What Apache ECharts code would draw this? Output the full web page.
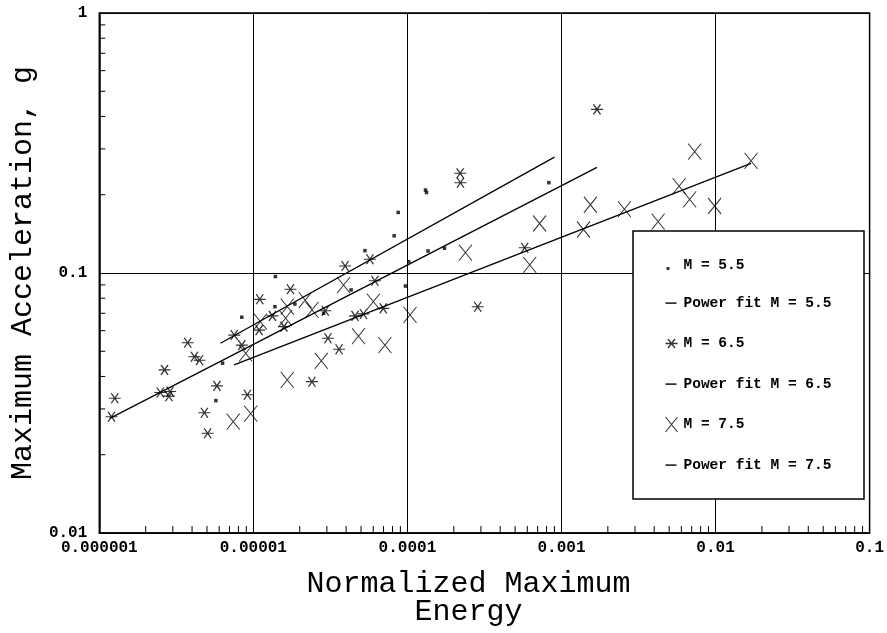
<!DOCTYPE html>
<html>
<head>
<meta charset="utf-8">
<script src="https://cdn.jsdelivr.net/npm/echarts@6/dist/echarts.min.js"></script>
<style>
html,body{margin:0;padding:0;background:#fff;}
#chart{width:887px;height:633px;}
</style>
</head>
<body>
<div id="chart"></div>
<script>
// ---- data ----
const m55X = [5.71e-6, 6.31e-6, 8.41e-6, 1.39e-5, 1.38e-5, 1.86e-5, 2.86e-5, 4.31e-5, 5.30e-5, 8.20e-5, 8.71e-5, 1.31e-4, 1.33e-4, 1.02e-4, 1.36e-4, 1.74e-4, 9.71e-5, 8.28e-4];
const m55Y = [0.0323, 0.0450, 0.0676, 0.0969, 0.0742, 0.0760, 0.0700, 0.0861, 0.1219, 0.139, 0.171, 0.2085, 0.204, 0.1105, 0.1215, 0.1245, 0.0891, 0.2225];

const m65X = [1.20e-6, 1.26e-6, 2.65e-6, 2.49e-6, 2.88e-6, 2.83e-6, 3.75e-6, 4.14e-6, 4.47e-6, 4.81e-6, 5.05e-6, 5.80e-6, 7.51e-6, 8.41e-6, 9.15e-6, 1.10e-5, 1.09e-5, 1.33e-5, 1.74e-5, 1.58e-5, 3.94e-5, 5.71e-5, 6.15e-5, 2.93e-5, 3.05e-5, 3.60e-5, 2.40e-5, 4.57e-5, 5.18e-5, 6.97e-5, 2.20e-4, 2.21e-4, 5.77e-4, 2.86e-4, 1.70e-3];
const m65Y = [0.0280, 0.0330, 0.0424, 0.0347, 0.0350, 0.0336, 0.0539, 0.0476, 0.0462, 0.0290, 0.0242, 0.0368, 0.0577, 0.0528, 0.0340, 0.0792, 0.0603, 0.0684, 0.0866, 0.0622, 0.1064, 0.113, 0.0934, 0.0716, 0.0561, 0.0509, 0.0382, 0.0684, 0.0696, 0.0731, 0.242, 0.2225, 0.125, 0.0742, 0.426];

const m75X = [7.40e-6, 9.61e-6, 8.92e-6, 1.11e-5, 1.66e-5, 1.62e-5, 2.17e-5, 2.40e-5, 3.85e-5, 6.01e-5, 4.81e-5, 2.76e-5, 7.14e-5, 1.66e-5, 1.04e-4, 2.38e-4, 7.21e-4, 6.22e-4, 1.39e-3, 1.54e-3, 2.56e-3, 4.24e-3, 5.80e-3, 6.79e-3, 7.32e-3, 9.86e-3, 1.70e-2];
const m75Y = [0.0268, 0.0288, 0.0491, 0.0650, 0.0742, 0.0670, 0.0787, 0.0721, 0.0899, 0.0776, 0.0572, 0.0459, 0.0528, 0.0388, 0.0690, 0.1197, 0.155, 0.1074, 0.147, 0.183, 0.176, 0.1575, 0.216, 0.192, 0.293, 0.181, 0.270];

const fit55X = [6.12e-6, 9.0e-4];
const fit55Y = [0.0537, 0.279];
const fit65X = [1.17e-6, 1.70e-3];
const fit65Y = [0.0276, 0.255];
const fit75X = [7.5e-6, 1.70e-2];
const fit75Y = [0.0443, 0.264];

const xTickLabels = ['0.000001', '0.00001', '0.0001', '0.001', '0.01', '0.1'];
const yTickLabels = ['0.01', '0.1', '1'];
const xMinorTicks = [2e-6,3e-6,4e-6,5e-6,6e-6,7e-6,8e-6,9e-6,
  2e-5,3e-5,4e-5,5e-5,6e-5,7e-5,8e-5,9e-5,
  2e-4,3e-4,4e-4,5e-4,6e-4,7e-4,8e-4,9e-4,
  2e-3,3e-3,4e-3,5e-3,6e-3,7e-3,8e-3,9e-3,
  0.02,0.03,0.04,0.05,0.06,0.07,0.08,0.09];
const yMinorTicks = [0.02,0.03,0.04,0.05,0.06,0.07,0.08,0.09,0.2,0.3,0.4,0.5,0.6,0.7,0.8,0.9];

const seriesNames = ['M = 5.5', 'Power fit M = 5.5', 'M = 6.5', 'Power fit M = 6.5', 'M = 7.5', 'Power fit M = 7.5'];

// ---- helpers ----
const zip = (xs, ys) => xs.map((x, i) => [x, ys[i]]);
const MONO = "'Courier New','Liberation Mono',monospace";
const ASTER = 'path://M-6,0L6,0M-3.5,-5L3.5,5M-3.5,5L3.5,-5';
const XMARK = 'path://M-6.5,-8L6.5,8M-6.5,8L6.5,-8';
// legend icons in a 14x16 frame (leading moves fix the frame)
const LEG_DOT = 'path://M0,0M14,16M2,10L5,10L5,13L2,13Z';
const LEG_DASH = 'path://M0,0M14,16M1,7.4L12,7.4L12,8.8L1,8.8Z';
const LEG_ASTER = 'path://M0,0M14,16M1,8L13,8M3.5,3.5L10.5,12.5M3.5,12.5L10.5,3.5';
const LEG_X = 'path://M0,0M14,16M1,0.5L13,15.5M1,15.5L13,0.5';

const tickSeries = (data, horizontal) => ({
  type: 'custom',
  silent: true,
  clip: false,
  z: 3,
  data: data,
  renderItem: (params, api) => {
    const p = api.coord([api.value(0), api.value(1)]);
    return {
      type: 'line',
      shape: horizontal ? {x1: p[0], y1: p[1], x2: p[0] + 6, y2: p[1]} : {x1: p[0], y1: p[1], x2: p[0], y2: p[1] - 7},
      style: {stroke: '#000', lineWidth: 1}
    };
  }
});

const chart = echarts.init(document.getElementById('chart'), null, {renderer: 'canvas'});
chart.setOption({
  backgroundColor: '#fff',
  animation: false,
  grid: {left: 96, right: 16, top: 13, bottom: 100, show: true, borderColor: '#000', borderWidth: 1.5, containLabel: false},
  xAxis: {
    type: 'log', logBase: 10, min: 1e-6, max: 0.1,
    name: 'Normalized Maximum\nEnergy',
    nameLocation: 'middle', nameGap: 37,
    nameTextStyle: {fontFamily: MONO, fontSize: 30, lineHeight: 28, color: '#000', padding: [0, 32, 0, 0]},
    axisLine: {show: true, lineStyle: {color: '#000', width: 1.5}},
    axisTick: {show: false},
    axisLabel: {margin: 7, color: '#000', fontFamily: MONO, fontWeight: 'bold', fontSize: 16,
      formatter: v => xTickLabels[Math.round(Math.log10(v)) + 6]},
    splitLine: {show: true, lineStyle: {color: '#000', width: 1}}
  },
  yAxis: {
    type: 'log', logBase: 10, min: 0.01, max: 1,
    name: 'Maximum Acceleration, g',
    nameLocation: 'middle', nameGap: 58,
    nameTextStyle: {fontFamily: MONO, fontSize: 30, color: '#000'},
    axisLine: {show: true, lineStyle: {color: '#000', width: 1.5}},
    axisTick: {show: false},
    axisLabel: {margin: 12, color: '#000', fontFamily: MONO, fontWeight: 'bold', fontSize: 16,
      formatter: v => yTickLabels[Math.round(Math.log10(v)) + 2]},
    splitLine: {show: true, lineStyle: {color: '#000', width: 1}}
  },
  graphic: [{
    type: 'rect', z: 10, silent: true,
    shape: {x: 633, y: 231, width: 231, height: 268},
    style: {fill: '#fff', stroke: '#000', lineWidth: 1.5}
  }],
  legend: {
    z: 20,
    orient: 'vertical', left: 662, top: 257,
    itemWidth: 14, itemHeight: 16, itemGap: 22,
    padding: 0,
    textStyle: {fontFamily: MONO, fontWeight: 'bold', fontSize: 14.5, color: '#000'},
    selectedMode: false,
    data: [
      {name: seriesNames[0], icon: LEG_DOT, itemStyle: {color: '#000', borderWidth: 0}},
      {name: seriesNames[1], icon: LEG_DASH, itemStyle: {color: '#000', borderWidth: 0}},
      {name: seriesNames[2], icon: LEG_ASTER, itemStyle: {color: 'none', borderColor: '#000', borderWidth: 1.3}},
      {name: seriesNames[3], icon: LEG_DASH, itemStyle: {color: '#000', borderWidth: 0}},
      {name: seriesNames[4], icon: LEG_X, itemStyle: {color: 'none', borderColor: '#000', borderWidth: 1.1}},
      {name: seriesNames[5], icon: LEG_DASH, itemStyle: {color: '#000', borderWidth: 0}}
    ]
  },
  series: [
    {name: seriesNames[0], type: 'scatter', data: zip(m55X, m55Y), symbol: 'rect', symbolSize: 3.5,
      itemStyle: {color: '#000'}},
    {name: seriesNames[1], type: 'line', data: zip(fit55X, fit55Y), symbol: 'none',
      lineStyle: {color: '#000', width: 1.3}, itemStyle: {color: '#000'}},
    {name: seriesNames[2], type: 'scatter', data: zip(m65X, m65Y), symbol: ASTER, symbolSize: [12, 10],
      itemStyle: {color: 'none', borderColor: '#000', borderWidth: 1.2}},
    {name: seriesNames[3], type: 'line', data: zip(fit65X, fit65Y), symbol: 'none',
      lineStyle: {color: '#000', width: 1.3}, itemStyle: {color: '#000'}},
    {name: seriesNames[4], type: 'scatter', data: zip(m75X, m75Y), symbol: XMARK, symbolSize: [13, 16],
      itemStyle: {color: 'none', borderColor: '#000', borderWidth: 1}},
    {name: seriesNames[5], type: 'line', data: zip(fit75X, fit75Y), symbol: 'none',
      lineStyle: {color: '#000', width: 1.3}, itemStyle: {color: '#000'}},
    tickSeries(xMinorTicks.map(v => [v, 0.01]), false),
    tickSeries(yMinorTicks.map(v => [1e-6, v]), true)
  ]
});
</script>
</body>
</html>
